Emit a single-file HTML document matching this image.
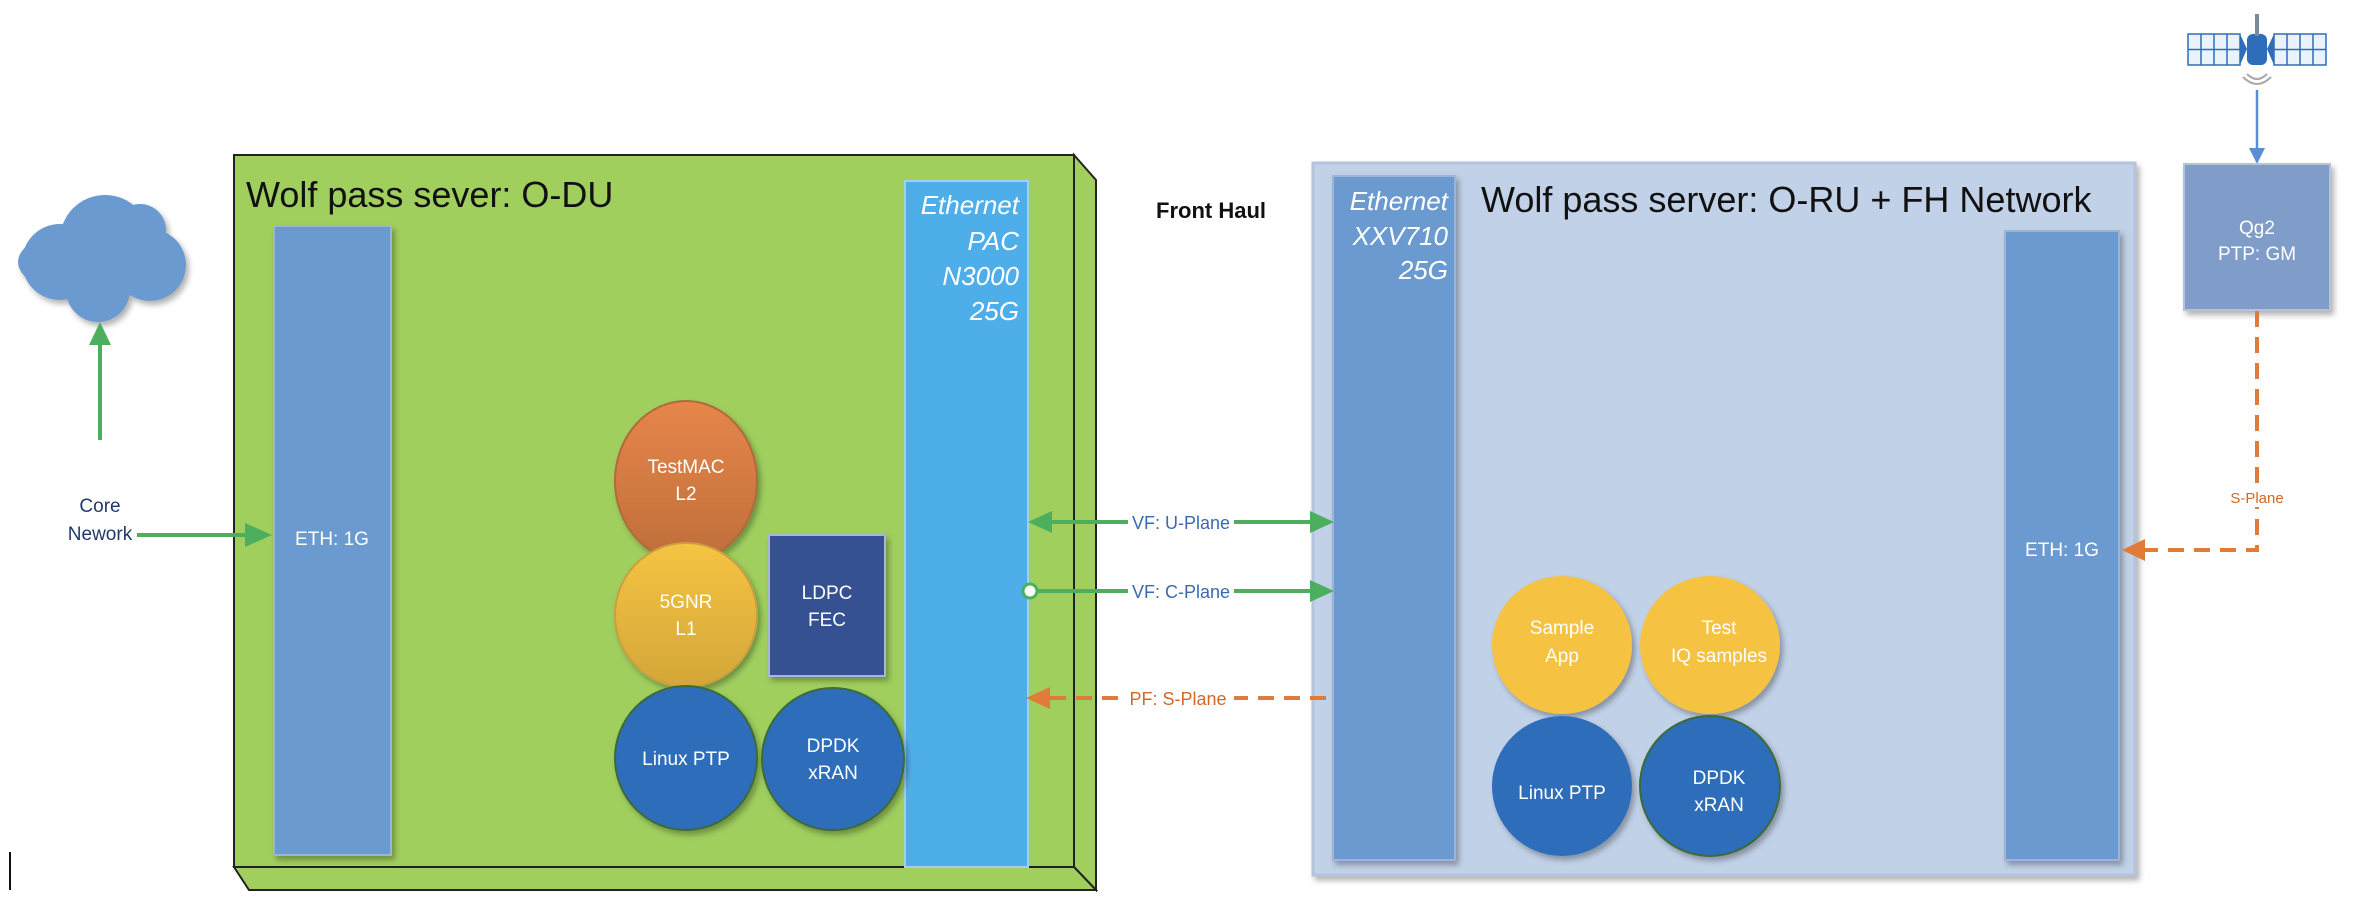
<!DOCTYPE html>
<html><head><meta charset="utf-8"><style>
html,body{margin:0;padding:0;background:#fff;width:2364px;height:902px;overflow:hidden}
svg{display:block}
text{font-family:"Liberation Sans",sans-serif}
</style></head><body>
<svg width="2364" height="902" viewBox="0 0 2364 902" xmlns="http://www.w3.org/2000/svg">
<defs>
<linearGradient id="gOr" x1="0" y1="0" x2="0" y2="1"><stop offset="0" stop-color="#e6864a"/><stop offset="1" stop-color="#bf6e3b"/></linearGradient>
<linearGradient id="gYe" x1="0" y1="0" x2="0" y2="1"><stop offset="0" stop-color="#f6c443"/><stop offset="1" stop-color="#d3a638"/></linearGradient>
<filter id="sh" x="-10%" y="-10%" width="130%" height="130%"><feDropShadow dx="3" dy="4" stdDeviation="3" flood-color="#000" flood-opacity="0.3"/></filter>
</defs>

<!-- cloud -->
<g fill="#6a9ad0" filter="url(#sh)">
<ellipse cx="100" cy="262" rx="82" ry="36"/>
<circle cx="105" cy="240" r="45"/>
<circle cx="60" cy="262" r="38"/>
<circle cx="150" cy="265" r="36"/>
<circle cx="140" cy="230" r="26"/>
<circle cx="98" cy="290" r="32"/>
</g>
<line x1="100" y1="440" x2="100" y2="340" stroke="#4caf5e" stroke-width="4"/>
<polygon points="100,322 89,345 111,345" fill="#4caf5e"/>
<text x="100" y="512" font-size="19" fill="#1f3a6a" text-anchor="middle">Core</text>
<text x="100" y="540" font-size="19" fill="#1f3a6a" text-anchor="middle">Nework</text>

<!-- green 3D box -->
<polygon points="1074,155 1096,180 1096,890 1074,867" fill="#a0cf5e" stroke="#222" stroke-width="2"/>
<polygon points="234,867 1074,867 1096,890 249,890" fill="#a0cf5e" stroke="#222" stroke-width="2"/>
<rect x="234" y="155" width="840" height="712" fill="#a0cf5e" stroke="#222" stroke-width="2"/>
<text x="246" y="207" font-size="36" fill="#111">Wolf pass sever: O-DU</text>

<rect x="274" y="226" width="117" height="629" fill="#6a9ad0" stroke="#9bb4d8" stroke-width="2" filter="url(#sh)"/>
<text x="332" y="545" font-size="19" fill="#fff" text-anchor="middle">ETH: 1G</text>

<line x1="137" y1="535" x2="250" y2="535" stroke="#4caf5e" stroke-width="4"/>
<polygon points="272,535 245,523 245,547" fill="#4caf5e"/>

<rect x="905" y="181" width="123" height="686" fill="#4eaeea" stroke="#a6cdea" stroke-width="2"/>
<g font-size="26" font-style="italic" fill="#fff" text-anchor="end">
<text x="1019" y="214">Ethernet</text>
<text x="1019" y="250">PAC</text>
<text x="1019" y="285">N3000</text>
<text x="1019" y="320">25G</text>
</g>

<g filter="url(#sh)">
<ellipse cx="686" cy="481" rx="71" ry="80" fill="url(#gOr)" stroke="#b06a3a" stroke-width="2"/>
<ellipse cx="686" cy="615" rx="71" ry="72" fill="url(#gYe)" stroke="#c9a040" stroke-width="2"/>
<rect x="769" y="535" width="116" height="141" fill="#355191" stroke="#a8b8d0" stroke-width="2"/>
<ellipse cx="686" cy="758" rx="71" ry="72" fill="#2e6dba" stroke="#3a6a3a" stroke-width="2"/>
<ellipse cx="833" cy="759" rx="71" ry="71" fill="#2e6dba" stroke="#3a6a3a" stroke-width="2"/>
</g>
<g font-size="19" fill="#fff" text-anchor="middle">
<text x="686" y="473">TestMAC</text><text x="686" y="500">L2</text>
<text x="686" y="608">5GNR</text><text x="686" y="635">L1</text>
<text x="827" y="599">LDPC</text><text x="827" y="626">FEC</text>
<text x="686" y="765">Linux PTP</text>
<text x="833" y="752">DPDK</text><text x="833" y="779">xRAN</text>
</g>

<text x="1211" y="218" font-size="22" font-weight="bold" fill="#111" text-anchor="middle">Front Haul</text>

<!-- right box -->
<rect x="1313" y="163" width="822" height="712" fill="#c1d1e7" stroke="#b4c4dc" stroke-width="3" filter="url(#sh)"/>
<rect x="1333" y="176" width="122" height="684" fill="#6a9ad0" stroke="#9bb4d8" stroke-width="2" filter="url(#sh)"/>
<g font-size="26" font-style="italic" fill="#fff" text-anchor="end">
<text x="1448" y="210">Ethernet</text>
<text x="1448" y="245">XXV710</text>
<text x="1448" y="279">25G</text>
</g>
<text x="1481" y="212" font-size="36" fill="#111">Wolf pass server: O-RU + FH Network</text>
<rect x="2005" y="231" width="114" height="629" fill="#6a9ad0" stroke="#9bb4d8" stroke-width="2" filter="url(#sh)"/>
<text x="2062" y="556" font-size="19" fill="#fff" text-anchor="middle">ETH: 1G</text>

<g filter="url(#sh)">
<ellipse cx="1562" cy="645" rx="70" ry="69" fill="#f5c242"/>
<ellipse cx="1710" cy="645" rx="70" ry="69" fill="#f5c242"/>
<ellipse cx="1562" cy="786" rx="70" ry="70" fill="#2e6dba"/>
<ellipse cx="1710" cy="786" rx="70" ry="70" fill="#2e6dba" stroke="#3a6a3a" stroke-width="2"/>
</g>
<g font-size="19" fill="#fff" text-anchor="middle">
<text x="1562" y="634">Sample</text><text x="1562" y="662">App</text>
<text x="1719" y="634">Test</text><text x="1719" y="662">IQ samples</text>
<text x="1562" y="799">Linux PTP</text>
<text x="1719" y="784">DPDK</text><text x="1719" y="811">xRAN</text>
</g>

<!-- front haul connectors -->
<line x1="1050" y1="522" x2="1312" y2="522" stroke="#4caf5e" stroke-width="4"/>
<polygon points="1028,522 1052,511 1052,533" fill="#4caf5e"/>
<polygon points="1334,522 1310,511 1310,533" fill="#4caf5e"/>
<rect x="1128" y="511" width="106" height="22" fill="#fff"/>
<text x="1181" y="529" font-size="18" fill="#3a6ab0" text-anchor="middle">VF: U-Plane</text>

<line x1="1036" y1="591" x2="1312" y2="591" stroke="#4caf5e" stroke-width="4"/>
<circle cx="1030" cy="591" r="7" fill="#fff" stroke="#4caf5e" stroke-width="3"/>
<polygon points="1334,591 1310,580 1310,602" fill="#4caf5e"/>
<rect x="1128" y="580" width="106" height="22" fill="#fff"/>
<text x="1181" y="598" font-size="18" fill="#3a6ab0" text-anchor="middle">VF: C-Plane</text>

<line x1="1050" y1="698" x2="1333" y2="698" stroke="#e07b39" stroke-width="4" stroke-dasharray="16,10"/>
<polygon points="1026,698 1050,687 1050,709" fill="#e07b39"/>
<rect x="1124" y="687" width="110" height="22" fill="#fff"/>
<text x="1178" y="705" font-size="18" fill="#d06a28" text-anchor="middle">PF: S-Plane</text>

<!-- satellite -->
<g stroke="#2e6dba" stroke-width="1.5" fill="#eaf2fb">
<rect x="2188" y="34" width="52" height="31"/>
<rect x="2274" y="34" width="52" height="31"/>
<path d="M2201 34V65M2214 34V65M2227 34V65M2188 49.5H2240M2287 34V65M2300 34V65M2313 34V65M2274 49.5H2326"/>
</g>
<polygon points="2240,34 2247,49 2240,65" fill="#2e6dba"/>
<polygon points="2274,34 2267,49 2274,65" fill="#2e6dba"/>
<rect x="2247" y="34" width="20" height="31" rx="6" fill="#2e6dba"/>
<rect x="2255" y="14" width="4" height="22" fill="#7a8a9a"/>
<path d="M2247 74 Q2257 84 2267 74 M2243 77 Q2257 91 2271 77" stroke="#aaa" stroke-width="2" fill="none"/>
<line x1="2257" y1="90" x2="2257" y2="150" stroke="#5b8ed0" stroke-width="2.5"/>
<polygon points="2257,164 2249,148 2265,148" fill="#5b8ed0"/>
<rect x="2184" y="164" width="146" height="146" fill="#7f9dc8" stroke="#b5c3d8" stroke-width="2" filter="url(#sh)"/>
<text x="2257" y="234" font-size="19" fill="#fff" text-anchor="middle">Qg2</text>
<text x="2257" y="260" font-size="19" fill="#fff" text-anchor="middle">PTP: GM</text>

<path d="M2257 311 V550 H2140" stroke="#e07b39" stroke-width="4" fill="none" stroke-dasharray="16,10"/>
<polygon points="2122,550 2145,539 2145,561" fill="#e07b39"/>
<rect x="2225" y="487" width="64" height="20" fill="#fff"/>
<text x="2257" y="503" font-size="15" fill="#d06a28" text-anchor="middle">S-Plane</text>

<line x1="10" y1="852" x2="10" y2="890" stroke="#111" stroke-width="2"/>
</svg>
</body></html>
